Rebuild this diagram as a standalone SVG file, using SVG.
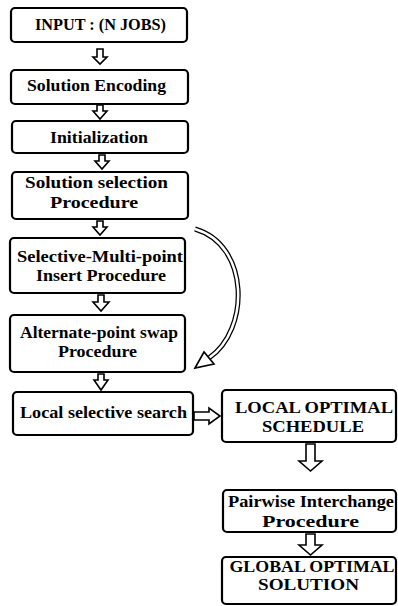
<svg xmlns="http://www.w3.org/2000/svg" width="398" height="606" viewBox="0 0 398 606">
<style>
.box{fill:#fff;stroke:#000;stroke-width:2.2}
.t{font-family:"Liberation Serif","DejaVu Serif",serif;font-weight:bold;font-size:16px;fill:#000;text-anchor:middle}
.ha{fill:#fff;stroke:#000;stroke-width:1.6;stroke-linejoin:miter}
</style>
<rect width="398" height="606" fill="#fff"/>
<g id="connectors">
<polygon class="ha" points="97,49 103,49 103,57 107,57 100,64 93,57 97,57"/>
<polygon class="ha" points="97,105 103,105 103,111 107,111 100,119 93,111 97,111"/>
<polygon class="ha" points="99,155 105,155 105,161 109,161 102,169 95,161 99,161"/>
<polygon class="ha" points="97,221 103,221 103,227 107,227 100,235 93,227 97,227"/>
<polygon class="ha" points="98,295 104,295 104,302 109,302 101,311 93,302 98,302"/>
<polygon class="ha" points="98,374 104,374 104,380 108,380 101,390 94,380 98,380"/>
<polygon class="ha" points="194,412 209,412 209,408 220,416 209,424 209,420 194,420"/>
<polygon class="ha" points="306,444 315,444 315,461 322,461 310.5,471 299,461 306,461"/>
<polygon class="ha" points="306,534 315,534 315,545 322,545 310.5,555 299,545 306,545"/>
<path d="M195 229 C250 245 250 330 209 358" fill="none" stroke="#000" stroke-width="5"/>
<path d="M195 229 C250 245 250 330 209 358" fill="none" stroke="#fff" stroke-width="2.5"/>
<polygon class="ha" points="195,368 204,352 214,364"/>
</g>
<g id="n1"><rect class="box" x="11" y="8" width="176" height="34" rx="4"/><text class="t" x="100.5" y="30" textLength="131" lengthAdjust="spacingAndGlyphs">INPUT : (N JOBS)</text></g>
<g id="n2"><rect class="box" x="11" y="70" width="177" height="34" rx="4"/><text class="t" x="96.5" y="91" textLength="139" lengthAdjust="spacingAndGlyphs">Solution Encoding</text></g>
<g id="n3"><rect class="box" x="12" y="121" width="176" height="32" rx="4"/><text class="t" x="99" y="143" textLength="98" lengthAdjust="spacingAndGlyphs">Initialization</text></g>
<g id="n4"><rect class="box" x="12" y="172" width="176" height="47" rx="4"/><text class="t" x="96.5" y="188" textLength="143" lengthAdjust="spacingAndGlyphs">Solution selection</text><text class="t" x="94" y="208" textLength="88" lengthAdjust="spacingAndGlyphs">Procedure</text></g>
<g id="n5"><rect class="box" x="10" y="238" width="175" height="55" rx="4"/><text class="t" x="100" y="262" textLength="166" lengthAdjust="spacingAndGlyphs">Selective-Multi-point</text><text class="t" x="101" y="281" textLength="130" lengthAdjust="spacingAndGlyphs">Insert Procedure</text></g>
<g id="n6"><rect class="box" x="10" y="315" width="175" height="57" rx="4"/><text class="t" x="99" y="338" textLength="158" lengthAdjust="spacingAndGlyphs">Alternate-point swap</text><text class="t" x="97.5" y="357" textLength="79" lengthAdjust="spacingAndGlyphs">Procedure</text></g>
<g id="n7"><rect class="box" x="13" y="392" width="180" height="43" rx="4"/><text class="t" x="103.5" y="418" textLength="167" lengthAdjust="spacingAndGlyphs">Local selective search</text></g>
<g id="n8"><rect class="box" x="222" y="390" width="174" height="52" rx="4"/><text class="t" x="314" y="413" textLength="158" lengthAdjust="spacingAndGlyphs">LOCAL OPTIMAL</text><text class="t" x="313" y="432" textLength="102" lengthAdjust="spacingAndGlyphs">SCHEDULE</text></g>
<g id="n9"><rect class="box" x="223" y="490" width="173" height="42" rx="4"/><text class="t" x="311" y="507" textLength="166" lengthAdjust="spacingAndGlyphs">Pairwise Interchange</text><text class="t" x="310.5" y="527" textLength="97" lengthAdjust="spacingAndGlyphs">Procedure</text></g>
<g id="n10"><rect class="box" x="222" y="557" width="174" height="47" rx="4"/><text class="t" x="312" y="572" textLength="165" lengthAdjust="spacingAndGlyphs">GLOBAL OPTIMAL</text><text class="t" x="308.5" y="590" textLength="101" lengthAdjust="spacingAndGlyphs">SOLUTION</text></g>
</svg>
